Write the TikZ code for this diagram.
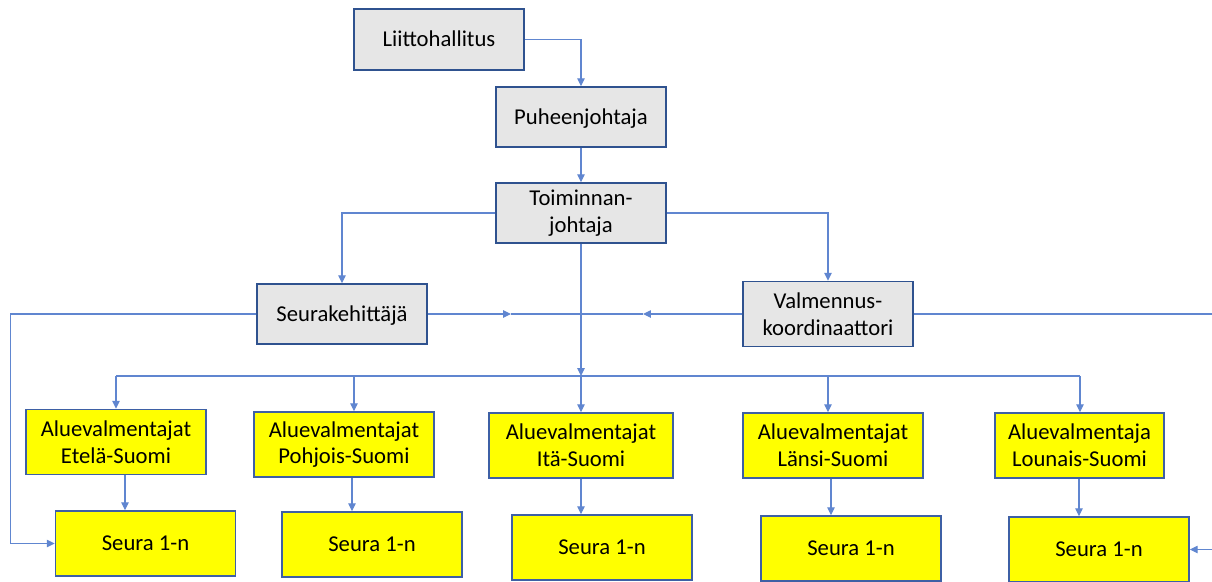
\documentclass[tikz,border=0pt]{standalone}
\usepackage{fontspec}
\setmainfont{Carlito}
\usepackage{tikz}
\usetikzlibrary{arrows.meta}
\definecolor{boxblue}{RGB}{47,82,143}
\definecolor{yboxblue}{RGB}{62,96,165}
\definecolor{linkblue}{RGB}{96,134,208}
\definecolor{boxgrey}{RGB}{230,230,230}
\definecolor{boxyellow}{RGB}{255,255,0}
\tikzset {
    style Grey/.style={
        fill=boxgrey,
        draw=boxblue,
        line width=0.85pt,
        rectangle, % Set the shape as a rectangle
        minimum width=3.4cm,
        minimum height=1.2cm,
        inner sep=0pt,
        align=center,
    },
    style Yellow/.style={
        fill=boxyellow,
        draw=yboxblue,
        line width=0.85pt,
        rectangle, % Set the shape as a rectangle
        minimum width=3.6cm,
        minimum height=1.3cm,
        inner sep=0pt,
        align=center,
    },
    one line/.style={
        text height=10pt,
        text depth=1.5pt,
    },
    link/.style={
        draw=linkblue,
        line width=0.6pt,
    },
}

\begin{document}
\begin{tikzpicture}
        [font=\fontsize{12.9pt}{15.2pt}\selectfont, >={Triangle[length=4.5pt,width=4.2pt]}]

        \useasboundingbox (0,0) rectangle (24.24,-11.62);

        % top of the chart
        \node[style Grey, one line, minimum height=1.22cm] at (8.78,-0.79) (lh) {Liittohallitus};
        \node[style Grey, one line] at (11.62,-2.34) (pj) {Puheenjohtaja};
        \node[style Grey] at (11.62,-4.26) (tj) {Toiminnan-\\johtaja};
        \node[style Grey, one line] at (6.84,-6.28) (sk) {Seurakehittäjä};
        \node[style Grey, minimum height=1.3cm] at (16.56,-6.28) (vk) {Valmennus-\\koordinaattori};

        % regions
        \node[style Yellow] at (2.32,-8.84) (ae) {Aluevalmentajat\\Etelä-Suomi};
        \node[style Yellow] at (6.88,-8.89) (ap) {Aluevalmentajat\\Pohjois-Suomi};
        \node[style Yellow, minimum width=3.68cm] at (11.62,-8.91) (ai) {Aluevalmentajat\\Itä-Suomi};
        \node[style Yellow] at (16.66,-8.91) (al) {Aluevalmentajat\\Länsi-Suomi};
        \node[style Yellow, minimum width=3.38cm] at (21.59,-8.91) (alo) {Aluevalmentaja\\Lounais-Suomi};

        % clubs
        \node[style Yellow, one line] at (2.91,-10.87) (se) {Seura 1-n};
        \node[style Yellow, one line] at (7.44,-10.89) (sp) {Seura 1-n};
        \node[style Yellow, one line] at (12.04,-10.95) (si) {Seura 1-n};
        \node[style Yellow, one line] at (17.02,-10.97) (sl) {Seura 1-n};
        \node[style Yellow, one line] at (21.98,-10.99) (slo) {Seura 1-n};

        \coordinate (bE) at (2.32,-7.52);
        \coordinate (bP) at (7.08,-7.52);
        \coordinate (bI) at (11.62,-7.52);
        \coordinate (bL) at (16.56,-7.52);
        \coordinate (bLo) at (21.6,-7.52);
        \coordinate (aE) at (2.5,-9.6);
        \coordinate (aP) at (7.04,-9.6);
        \coordinate (aL) at (16.62,-9.6);
        \coordinate (aLo) at (21.58,-9.6);
        \coordinate (lt) at (0.21,-6.28);
        \coordinate (rt) at (24.32,-6.28);
        \coordinate (skA) at (10.22,-6.28);
        \coordinate (vkA) at (12.86,-6.28);
        \coordinate (mid) at (11.62,-6.28);

        \draw[link, ->] (lh.east) -| (pj.north);
        \draw[link, ->] (pj) -- (tj);
        \draw[link, ->] (tj.west) -| (sk.north);
        \draw[link, ->] (tj.east) -| (vk.north);
        \draw[link, ->] (tj.south) -- (bI);
        \draw[link, ->] (bI) -- (ai.north);

        \draw[link, ->] (sk.east) -- (skA);
        \draw[link] (skA) -- (mid);
        \draw[link, ->] (vk.west) -- (vkA);
        \draw[link] (vkA) -- (mid);
        \draw[link, ->] (sk.west) -- (lt) |- (se.west);
        \draw[link, ->] (vk.east) -- (rt) |- (slo.east);

        \draw[link] (bE) -- (bLo);
        \draw[link, ->] (bE) -- (ae.north);
        \draw[link, ->] (bP) -- (ap.north -| bP);
        \draw[link, ->] (bL) -- (al.north -| bL);
        \draw[link, ->] (bLo) -- (alo.north -| bLo);

        \draw[link, ->] (ae.south -| aE) -- (se.north -| aE);
        \draw[link, ->] (ap.south -| aP) -- (sp.north -| aP);
        \draw[link, ->] (ai.south) -- (ai.south |- si.north);
        \draw[link, ->] (al.south -| aL) -- (sl.north -| aL);
        \draw[link, ->] (alo.south -| aLo) -- (slo.north -| aLo);
    \end{tikzpicture}
\end{document}
